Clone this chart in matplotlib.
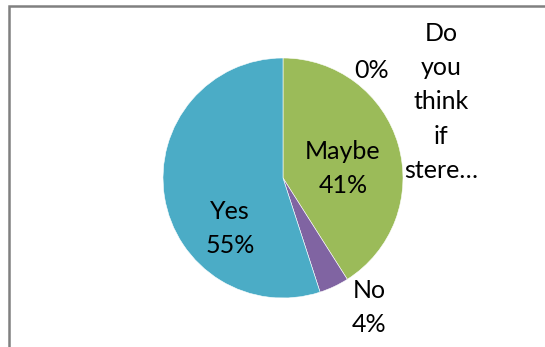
import matplotlib.pyplot as plt
from matplotlib.patches import Rectangle

# categories in the order Excel draws them, clockwise from 12 o'clock
categories = ["Do you think if stere…", "Maybe", "No", "Yes"]
shares = [0, 41, 4, 55]
colors = ["#4F81BD", "#9BBB59", "#8064A2", "#4BACC6"]

# label positions in pie-radius units (best-fit placement of the original)
label_pos = [(0.74, 0.90), (0.50, 0.08), (0.72, -1.08), (-0.44, -0.42)]
title_lines = ["Do", "you", "think", "if", "stere…"]

W, H = 545, 347
cx, cy, R = 283, 178, 120

plt.rcParams['font.family'] = ['Lato', 'DejaVu Sans']

fig = plt.figure(figsize=(W / 100, H / 100), dpi=100)
ax = fig.add_axes([0, 0, 1, 1])

ax.pie(shares, colors=colors, startangle=90, counterclock=False,
       radius=1, center=(0, 0), frame=True,
       wedgeprops=dict(edgecolor='white', linewidth=0.4))
ax.set_xlim(-cx / R, (W - cx) / R)
ax.set_ylim(-(H - cy) / R, cy / R)
ax.set_aspect('auto')
ax.axis('off')

for cat, val, (x, y) in zip(categories, shares, label_pos):
    if val == 0:
        txt = f"{val}%"
    else:
        txt = f"{cat}\n{val}%"
    ax.text(x, y, txt, ha='center', va='center', fontsize=18,
            color='black', linespacing=1.6)

# chart title, wrapped into a narrow column on the right
ax.text((441 - cx) / R, (cy - 102) / R, "\n".join(title_lines),
        ha='center', va='center', fontsize=18, linespacing=1.6)

# chart area border (cut off at right and bottom)
fig.patches.append(Rectangle((9 / W, -0.1), 1.2, (H - 6) / H + 0.1,
                             transform=fig.transFigure, fill=False,
                             edgecolor='#808080', linewidth=1.8))

fig.savefig("out.png", dpi=100)
